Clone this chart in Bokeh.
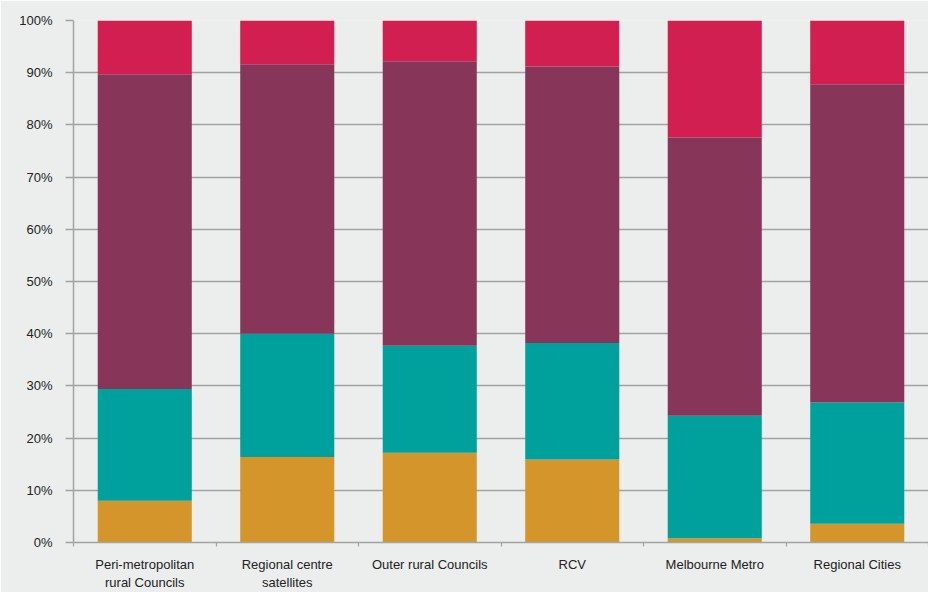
from bokeh.plotting import figure
from bokeh.models import FixedTicker, LinearAxis, Range1d, ColumnDataSource
from bokeh.embed import file_html
from bokeh.resources import INLINE

categories = ["Peri-metropolitan\nrural Councils", "Regional centre\nsatellites",
              "Outer rural Councils", "RCV", "Melbourne Metro", "Regional Cities"]
series_names = ["s1", "s2", "s3", "s4"]
s1 = [8.0, 16.4, 17.2, 15.9, 0.8, 3.6]
s2 = [21.4, 23.6, 20.5, 22.3, 23.5, 23.2]
s3 = [60.3, 51.6, 54.5, 53.0, 53.3, 61.0]
s4 = [10.3, 8.4, 7.8, 8.8, 22.4, 12.2]
colors = ["#d4962a", "#00a19c", "#87365a", "#d01f50"]
y_ticks = [0, 10, 20, 30, 40, 50, 60, 70, 80, 90, 100]
y_tick_labels = ["0%", "10%", "20%", "30%", "40%", "50%", "60%", "70%", "80%", "90%", "100%"]

FONT = "Liberation Sans"
BG = "#ebeeec"
GRID = "#a3a3a3"

n = len(categories)
centers = [i + 0.5 for i in range(n)]
bounds = list(range(n + 1))

p = figure(width=928, height=592, x_range=Range1d(0, n), y_range=Range1d(0, 100),
           output_backend="svg", toolbar_location=None, x_axis_location=None,
           background_fill_color=BG, border_fill_color=BG,
           min_border_left=73, min_border_right=0, min_border_top=20, min_border_bottom=5)
p.outline_line_color = None

src = ColumnDataSource(dict(x=centers, s1=s1, s2=s2, s3=s3, s4=s4))
p.vbar_stack(series_names, x="x", width=0.66, color=colors, line_color=None, source=src)

# y axis
p.yaxis.ticker = FixedTicker(ticks=y_ticks)
p.yaxis.major_label_overrides = {t: l for t, l in zip(y_ticks, y_tick_labels)}
p.yaxis.axis_line_color = GRID
p.yaxis.axis_line_width = 1.5
p.yaxis.major_tick_line_color = GRID
p.yaxis.major_tick_line_width = 1.5
p.yaxis.major_tick_in = 0
p.yaxis.major_tick_out = 8
p.yaxis.minor_tick_line_color = None
p.yaxis.major_label_text_font = FONT
p.yaxis.major_label_text_font_size = "13px"
p.yaxis.major_label_text_color = "#222222"
p.yaxis.major_label_standoff = 13

p.ygrid.ticker = FixedTicker(ticks=y_ticks)
p.ygrid.grid_line_color = GRID
p.ygrid.grid_line_width = 1.5
p.xgrid.grid_line_color = None

# x axis: labels at category centres, small ticks at category boundaries
x_axis = LinearAxis(ticker=FixedTicker(ticks=centers, minor_ticks=bounds))
x_axis.major_label_overrides = {c: l for c, l in zip(centers, categories)}
x_axis.axis_line_color = GRID
x_axis.axis_line_width = 1.5
x_axis.major_tick_line_color = None
x_axis.minor_tick_line_color = GRID
x_axis.minor_tick_line_width = 1.2
x_axis.minor_tick_in = 0
x_axis.minor_tick_out = 4
x_axis.major_label_text_font = FONT
x_axis.major_label_text_font_size = "13px"
x_axis.major_label_text_color = "#222222"
x_axis.major_label_standoff = 8
p.add_layout(x_axis, "below")

open("out.html", "w").write(file_html(p, INLINE))
